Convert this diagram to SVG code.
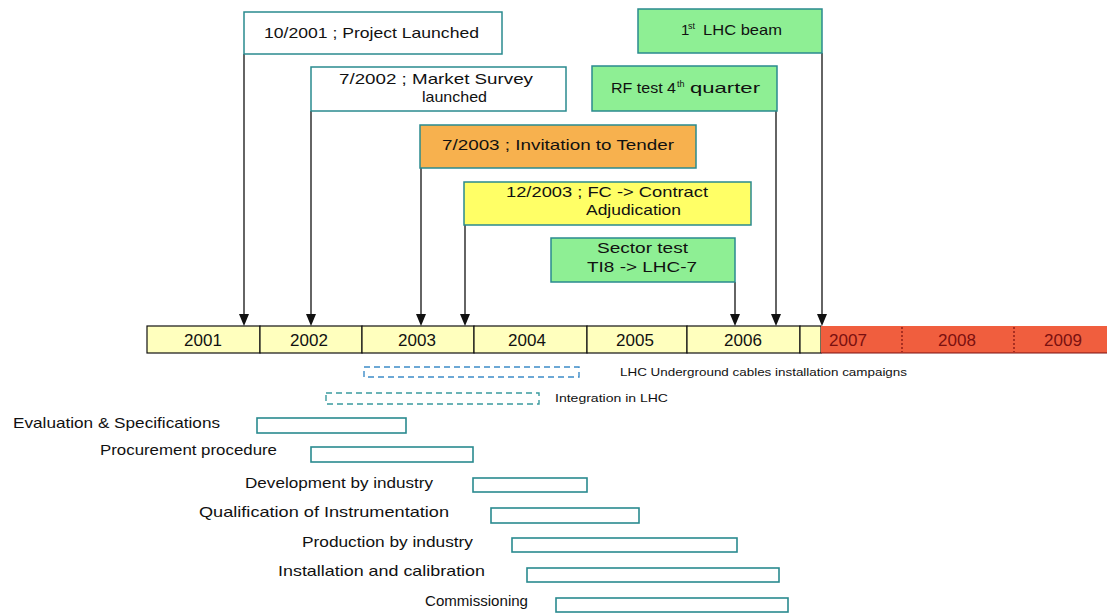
<svg xmlns="http://www.w3.org/2000/svg" width="1107" height="615" viewBox="0 0 1107 615">
<defs>
<style>
text{font-family:"Liberation Sans","DejaVu Sans",sans-serif;fill:#111}
.box{stroke:#2A8A8F;stroke-width:1.5}
.bt{font-size:15px}
.yr{font-size:17px;text-anchor:middle}
.ry{font-size:17px;text-anchor:middle;fill:#7A1010}
.lbl{font-size:15px}
.bar{fill:none;stroke:#2A8A8F;stroke-width:1.6}
.small{font-size:10.5px}
.cell{fill:#FFFFBE;stroke:#111;stroke-width:1.2}
.ln{stroke:#111;stroke-width:1.3;fill:none}
.ah{fill:#111}
</style>
</defs>

<g id="connectors">
<path class="ln" d="M244,54 V314"/>
<path class="ah" d="M239,314 L249,314 L244,326 Z"/>
<path class="ln" d="M311,111 V314"/>
<path class="ah" d="M306,314 L316,314 L311,326 Z"/>
<path class="ln" d="M421,168 V314"/>
<path class="ah" d="M416,314 L426,314 L421,326 Z"/>
<path class="ln" d="M465,225 V314"/>
<path class="ah" d="M460,314 L470,314 L465,326 Z"/>
<path class="ln" d="M735,282 V314"/>
<path class="ah" d="M730,314 L740,314 L735,326 Z"/>
<path class="ln" d="M776,111 V314"/>
<path class="ah" d="M771,314 L781,314 L776,326 Z"/>
<path class="ln" d="M822,53 V314"/>
<path class="ah" d="M817,314 L827,314 L822,326 Z"/>
</g>

<g id="n-project-launched">
<rect class="box" x="244" y="12" width="258" height="42" fill="#FFFFFF"/>
<text class="bt" x="264" y="38" textLength="215" lengthAdjust="spacingAndGlyphs">10/2001 ; Project Launched</text>
</g>
<g id="n-market-survey">
<rect class="box" x="311" y="67" width="255" height="44" fill="#FFFFFF"/>
<text class="bt" x="339" y="84" textLength="194" lengthAdjust="spacingAndGlyphs">7/2002 ; Market Survey</text>
<text class="bt" x="422" y="102" textLength="65" lengthAdjust="spacingAndGlyphs">launched</text>
</g>
<g id="n-invitation-tender">
<rect class="box" x="420" y="125" width="276" height="43" fill="#F7B14E"/>
<text class="bt" x="442" y="150" textLength="232" lengthAdjust="spacingAndGlyphs">7/2003 ; Invitation to Tender</text>
</g>
<g id="n-contract-adjudication">
<rect class="box" x="464" y="182" width="287" height="43" fill="#FFFF66"/>
<text class="bt" x="506" y="197" textLength="202" lengthAdjust="spacingAndGlyphs">12/2003 ; FC -&gt; Contract</text>
<text class="bt" x="586" y="215" textLength="95" lengthAdjust="spacingAndGlyphs">Adjudication</text>
</g>
<g id="n-sector-test">
<rect class="box" x="551" y="238" width="184" height="44" fill="#8EEF94"/>
<text class="bt" x="597" y="253" textLength="91" lengthAdjust="spacingAndGlyphs">Sector test</text>
<text class="bt" x="587" y="272" textLength="110" lengthAdjust="spacingAndGlyphs">TI8 -&gt; LHC-7</text>
</g>
<g id="n-lhc-beam">
<rect class="box" x="638" y="9" width="184" height="44" fill="#8EEF94"/>
<text class="bt" x="681" y="35">1</text>
<text x="688" y="29" font-size="9">st</text>
<text class="bt" x="703" y="35" textLength="79" lengthAdjust="spacingAndGlyphs">LHC beam</text>
</g>
<g id="n-rf-test">
<rect class="box" x="592" y="66" width="185" height="45" fill="#8EEF94"/>
<text class="bt" x="611" y="93" textLength="65" lengthAdjust="spacingAndGlyphs">RF test 4</text>
<text x="677" y="87" font-size="9">th</text>
<text class="bt" x="690" y="93" textLength="70" lengthAdjust="spacingAndGlyphs">quarter</text>
</g>

<g id="timeline">
<rect class="cell" x="147" y="326" width="113" height="27"/>
<rect class="cell" x="260" y="326" width="102" height="27"/>
<rect class="cell" x="362" y="326" width="112" height="27"/>
<rect class="cell" x="474" y="326" width="113" height="27"/>
<rect class="cell" x="587" y="326" width="100" height="27"/>
<rect class="cell" x="687" y="326" width="113" height="27"/>
<rect class="cell" x="800" y="326" width="21" height="27"/>
<rect x="821" y="326" width="286" height="27" fill="#F05E3E"/>
<line x1="821" y1="353" x2="1107" y2="353" stroke="#7A1010" stroke-width="1"/>
<line x1="902" y1="327" x2="902" y2="352" stroke="#7A1010" stroke-width="1.2" stroke-dasharray="2,2"/>
<line x1="1014" y1="327" x2="1014" y2="352" stroke="#7A1010" stroke-width="1.2" stroke-dasharray="2,2"/>
<text class="yr" x="203" y="346">2001</text>
<text class="yr" x="309" y="346">2002</text>
<text class="yr" x="417" y="346">2003</text>
<text class="yr" x="527" y="346">2004</text>
<text class="yr" x="635" y="346">2005</text>
<text class="yr" x="743" y="346">2006</text>
<text class="ry" x="848" y="346">2007</text>
<text class="ry" x="957" y="346">2008</text>
<text class="ry" x="1063" y="346">2009</text>
</g>

<g id="n-cables">
<rect x="364" y="367" width="215" height="10" fill="none" stroke="#3D8CC8" stroke-width="1.4" stroke-dasharray="6,4"/>
<text class="small" x="620" y="376" textLength="287" lengthAdjust="spacingAndGlyphs">LHC Underground cables installation campaigns</text>
</g>
<g id="n-integration">
<rect x="326" y="393" width="213" height="11" fill="none" stroke="#3A9A9E" stroke-width="1.4" stroke-dasharray="6,4"/>
<text class="small" x="555" y="402" textLength="113" lengthAdjust="spacingAndGlyphs">Integration in LHC</text>
</g>

<g id="n-evaluation">
<text class="lbl" x="13" y="428" textLength="207" lengthAdjust="spacingAndGlyphs">Evaluation &amp; Specifications</text>
<rect class="bar" x="257" y="418" width="149" height="15"/>
</g>
<g id="n-procurement">
<text class="lbl" x="100" y="455" textLength="177" lengthAdjust="spacingAndGlyphs">Procurement procedure</text>
<rect class="bar" x="311" y="447" width="162" height="15"/>
</g>
<g id="n-development">
<text class="lbl" x="245" y="488" textLength="188" lengthAdjust="spacingAndGlyphs">Development by industry</text>
<rect class="bar" x="473" y="478" width="114" height="14"/>
</g>
<g id="n-qualification">
<text class="lbl" x="199" y="517" textLength="250" lengthAdjust="spacingAndGlyphs">Qualification of Instrumentation</text>
<rect class="bar" x="491" y="508" width="148" height="15"/>
</g>
<g id="n-production">
<text class="lbl" x="302" y="547" textLength="171" lengthAdjust="spacingAndGlyphs">Production by industry</text>
<rect class="bar" x="512" y="538" width="225" height="14"/>
</g>
<g id="n-installation">
<text class="lbl" x="278" y="576" textLength="207" lengthAdjust="spacingAndGlyphs">Installation and calibration</text>
<rect class="bar" x="527" y="568" width="252" height="14"/>
</g>
<g id="n-commissioning">
<text class="lbl" x="425" y="606" textLength="103" lengthAdjust="spacingAndGlyphs">Commissioning</text>
<rect class="bar" x="556" y="598" width="232" height="14"/>
</g>
</svg>
